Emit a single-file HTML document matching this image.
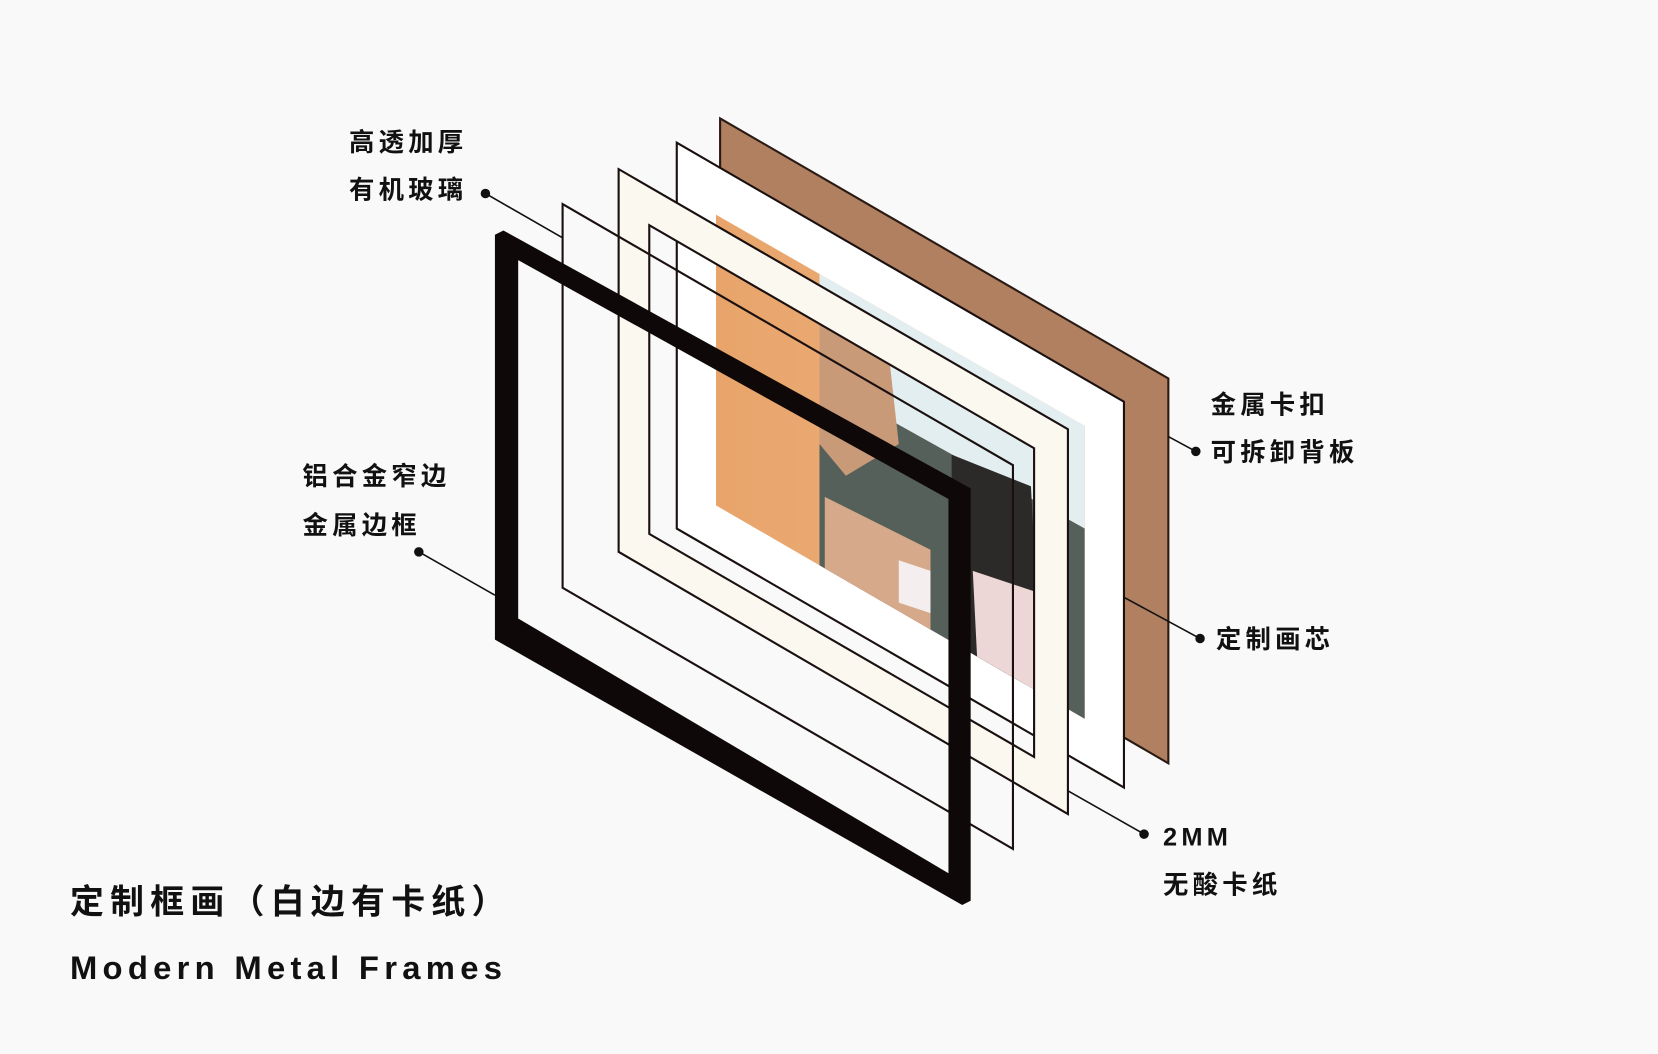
<!DOCTYPE html>
<html><head><meta charset="utf-8"><style>
html,body{margin:0;padding:0;background:#f9f9f9;}
svg{display:block}
text{font-family:"Liberation Sans","Noto Sans CJK SC",sans-serif;font-weight:bold;fill:#111;}
</style></head><body>
<svg width="1658" height="1054" viewBox="0 0 1568 997" xmlns="http://www.w3.org/2000/svg">
<defs>
<clipPath id="ph"><polygon points="677,203 1026,403 1026,680 677,478"/></clipPath>
<linearGradient id="og" x1="0" y1="0" x2="1" y2="0"><stop offset="0" stop-color="#e8a46a"/><stop offset="1" stop-color="#eeb485"/></linearGradient>
</defs>
<rect width="1568" height="997" fill="#f9f9f9"/>
<polygon points="681,112 1105,358 1105,722 681,476" fill="#b08060" stroke="#2a1a14" stroke-width="2"/>
<polygon points="640,135 1063,380 1063,745 640,500" fill="#ffffff" stroke="#1a1010" stroke-width="2"/>
<g clip-path="url(#ph)">
<rect x="677" y="200" width="350" height="480" fill="url(#og)"/>
<polygon points="775,255 1026,400 1026,500 775,360" fill="#e2eef0"/>
<polygon points="775,360 1026,500 1026,690 775,560" fill="#56605a"/>
<polygon points="775,300 840,330 850,420 800,450 775,420" fill="#c99a78"/>
<polygon points="900,430 975,460 985,650 920,640 900,560" fill="#2c2a28"/>
<polygon points="920,540 980,560 985,660 925,640" fill="#ecd6d6"/>
<polygon points="780,470 880,520 880,600 780,560" fill="#d6a98a"/>
<polygon points="850,530 880,540 880,580 850,570" fill="#f4eeee"/>
</g>
<path d="M585,160 L1010,406 L1010,770 L585,522 Z M614,213 L614,505 L978,716 L978,424 Z" fill="#fbf8f0" fill-rule="evenodd" stroke="#1a1010" stroke-width="2"/>
<polygon points="532,193 958,440 958,803 532,556" fill="none" stroke="#1a1010" stroke-width="2"/>
<path d="M468,222 L476,218 L918,462 L918,852 L910,856 L468,605 Z M490,246 L490,585 L897,826 L897,472 Z" fill="#0e0808" fill-rule="evenodd"/>
<g stroke="#111" stroke-width="1.5">
<line x1="459" y1="183" x2="532" y2="225"/>
<line x1="396" y1="522" x2="468" y2="563"/>
<line x1="1131" y1="427" x2="1105" y2="413"/>
<line x1="1135" y1="604" x2="1063" y2="565"/>
<line x1="1082" y1="789" x2="1010" y2="748"/>
</g>
<g fill="#111">
<circle cx="459" cy="183" r="4.5"/><circle cx="396" cy="522" r="4.5"/><circle cx="1131" cy="427" r="4.5"/><circle cx="1135" cy="604" r="4.5"/><circle cx="1082" cy="789" r="4.5"/>
</g>
<g font-size="24" letter-spacing="4">
<text x="330" y="143">高透加厚</text>
<text x="330" y="188">有机玻璃</text>
<text x="286" y="459">铝合金窄边</text>
<text x="286" y="505">金属边框</text>
<text x="1145" y="391">金属卡扣</text>
<text x="1145" y="436">可拆卸背板</text>
<text x="1150" y="613">定制画芯</text>
<text x="1100" y="800">2MM</text>
<text x="1100" y="845">无酸卡纸</text>
</g>
<text x="66" y="864" font-size="32" letter-spacing="6">定制框画（白边有卡纸）</text>
<text x="66" y="926" font-size="31" letter-spacing="5">Modern Metal Frames</text>
</svg>
</body></html>
